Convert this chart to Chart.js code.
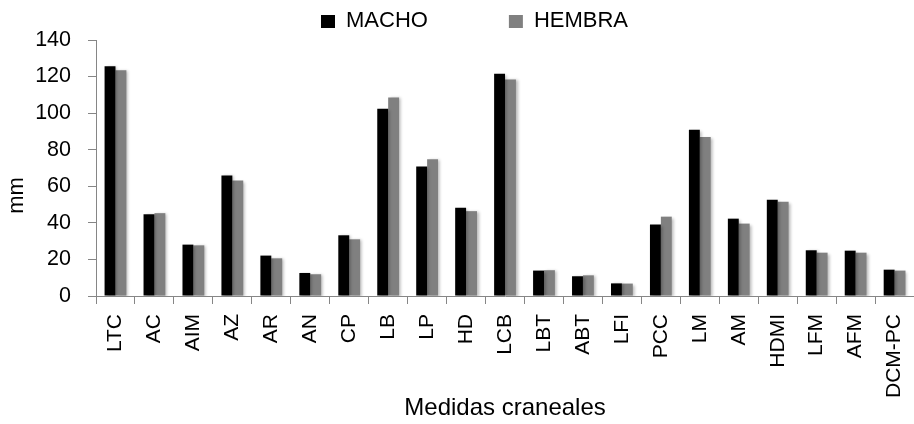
<!DOCTYPE html>
<html><head><meta charset="utf-8">
<script src="https://cdn.jsdelivr.net/npm/chart.js@4/dist/chart.umd.min.js"></script>
<style>
html,body{margin:0;padding:0;overflow:hidden;background:#fff;width:914px;height:424px}
#wrap{width:930px;height:424px;position:relative}
</style></head>
<body><div id="wrap"><canvas id="c"></canvas></div>
<script>
const categories = ['LTC','AC','AIM','AZ','AR','AN','CP','LB','LP','HD','LCB','LBT','ABT','LFI','PCC','LM','AM','HDMI','LFM','AFM','DCM-PC'];
const macho  = [125.7, 44.7, 28.1, 65.9, 22.1, 12.6, 33.2, 102.4, 70.8, 48.2, 121.5, 13.9, 10.8, 6.9, 39.1, 90.9, 42.3, 52.7, 25.0, 24.8, 14.4];
const hembra = [123.4, 45.3, 27.7, 63.1, 20.6, 11.9, 31.0, 108.6, 74.8, 46.4, 118.4, 14.1, 11.3, 6.8, 43.4, 87.0, 39.6, 51.6, 23.7, 23.7, 13.9];
const yTicks = [0, 20, 40, 60, 80, 100, 120, 140];
const seriesNames = ['MACHO', 'HEMBRA'];
const xTitle = 'Medidas craneales';
const yTitle = 'mm';

const FONT = '"Liberation Sans", Arial, sans-serif';
const AXIS = '#868686';

const legendPlugin = {
  id: 'customLegend',
  afterDraw(chart) {
    const ctx = chart.ctx;
    ctx.save();
    ctx.font = '22px ' + FONT;
    ctx.textBaseline = 'middle';
    ctx.textAlign = 'left';
    let x = 321;
    chart.data.datasets.forEach(ds => {
      ctx.fillStyle = ds.backgroundColor;
      ctx.fillRect(x, 15, 14, 13);
      ctx.fillStyle = '#000';
      ctx.fillText(ds.label, x + 25, 20.5);
      x += 25 + ctx.measureText(ds.label).width + 81;
    });
    ctx.restore();
  }
};

const shadowPlugin = {
  id: 'barShadow',
  beforeDatasetsDraw(chart) {
    const ctx = chart.ctx;
    ctx.save();
    ctx.shadowColor = 'rgba(0,0,0,0.28)';
    ctx.shadowBlur = 3;
    ctx.shadowOffsetX = 2;
    ctx.shadowOffsetY = 1;
  },
  afterDatasetsDraw(chart) {
    chart.ctx.restore();
  }
};

new Chart(document.getElementById('c'), {
  type: 'bar',
  data: {
    labels: categories,
    datasets: [
      { label: seriesNames[0], data: macho, backgroundColor: '#000000', borderWidth: 0 },
      { label: seriesNames[1], data: hembra, backgroundColor: '#808080', borderWidth: 0 }
    ]
  },
  options: {
    responsive: true,
    maintainAspectRatio: false,
    animation: false,
    devicePixelRatio: 1,
    layout: { padding: { top: 40, right: 9, bottom: 0, left: 0 } },
    datasets: { bar: { categoryPercentage: 0.56, barPercentage: 1.0 } },
    plugins: {
      legend: { display: false },
      tooltip: { enabled: false }
    },
    scales: {
      x: {
        offset: true,
        grid: { display: true, drawOnChartArea: false, drawTicks: true, tickLength: 8, color: AXIS, offset: true },
        border: { display: true, color: AXIS, width: 1 },
        ticks: { color: '#000', font: { family: FONT, size: 21 }, minRotation: 90, maxRotation: 90, autoSkip: false, padding: 10 },
        title: { display: true, text: xTitle, color: '#000', font: { family: FONT, size: 24 }, padding: { top: 0, bottom: 1 } },
        afterFit(scale) { scale.height = 128; }
      },
      y: {
        min: 0,
        max: yTicks[yTicks.length - 1],
        afterBuildTicks(scale) { scale.ticks = yTicks.map(v => ({ value: v })); },
        grid: { display: true, drawOnChartArea: false, drawTicks: true, tickLength: 8, color: AXIS },
        border: { display: true, color: AXIS, width: 1 },
        ticks: { color: '#000', font: { family: FONT, size: 21.5 }, padding: 17 },
        title: { display: true, text: yTitle + '         ', color: '#000', font: { family: FONT, size: 22 }, padding: { top: 4, bottom: 0 } },
        afterFit(scale) { scale.width = 96; }
      }
    }
  },
  plugins: [shadowPlugin, legendPlugin]
});
</script>
</body></html>
